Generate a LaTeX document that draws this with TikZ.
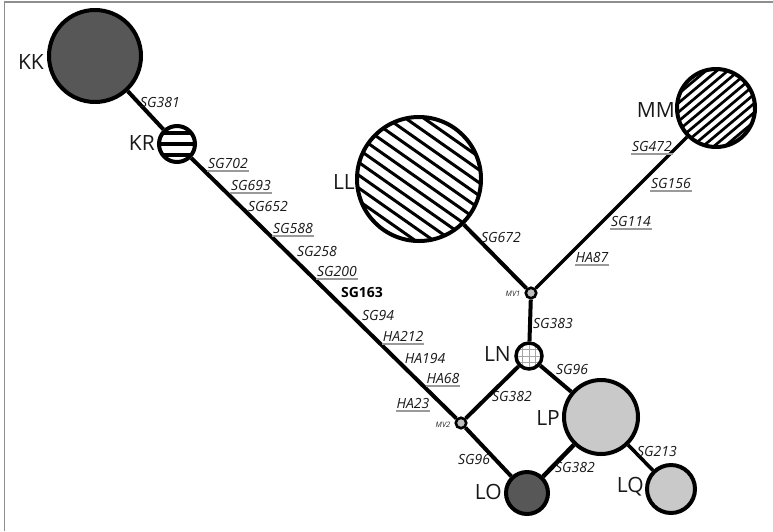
\documentclass[tikz,border=0pt]{standalone}
\usepackage{fontspec}
\setmainfont{Open Sans}
\definecolor{darkfill}{HTML}{575757}
\definecolor{lightfill}{HTML}{C9C9C9}
\definecolor{mvfill}{HTML}{BDBDBD}
\definecolor{framegray}{HTML}{8F8F8F}
\definecolor{ulgray}{HTML}{9A9A9A}
\begin{document}
\begin{tikzpicture}[x=1pt,y=-1pt,
  hap/.style={circle, draw=black, line width=4pt, inner sep=0pt, minimum size=#1},
  mv/.style={circle, draw=black, fill=mvfill, line width=2.6pt, inner sep=0pt, minimum size=10.5pt},
  link/.style={line width=4pt, black},
  stripe/.style={line width=#1, black},
  mut/.style={font=\itshape\fontsize{14}{16}\selectfont, inner sep=0.5pt, text=black!90},
  mutbold/.style={font=\bfseries\fontsize{14}{16}\selectfont, inner sep=0.5pt, text=black},
  hname/.style={font=\fontsize{21}{23}\selectfont, inner sep=0pt, anchor=east, text=black!90},
  mvname/.style={font=\itshape\fontsize{7.5}{8}\selectfont, inner sep=0pt, text=black!85},
  ulline/.style={draw=ulgray, line width=1.3pt}
]
\useasboundingbox (0,0) rectangle (773,531);
% partial frame along the top and left edges
\draw[framegray, line width=1.8pt] (4.5,531) -- (4.5,1.8) -- (773,1.8);

% haplotype circles
\node[hap=92, fill=darkfill] (kk) at (95,56) {};
\node[hap=36, fill=white, path picture={
    \foreach \dy in {-11,0,11}
      \draw[stripe=4pt] ([shift={(-30,\dy)}]path picture bounding box.center) -- ++(60,0);
  }] (kr) at (177,144) {};
\node[hap=124, fill=white, path picture={
    \foreach \k in {-7,...,7}
      \draw[stripe=3pt] ([shift={(-\k*6.03-57.3, \k*8.60-40.2)}]path picture bounding box.center) -- ++(114.6,80.4);
  }] (ll) at (419,179) {};
\node[hap=78, fill=white, path picture={
    \foreach \k in {-7,...,7}
      \draw[stripe=2.7pt] ([shift={(\k*4.50-38.3, \k*5.36+32.1)}]path picture bounding box.center) -- ++(76.6,-64.2);
  }] (mm) at (716,108) {};
\node[mv] (mv1) at (531,293) {};
\node[hap=26, line width=3.5pt, fill=white, path picture={
    \draw[black!35, line width=0.6pt, step=6.5pt]
      ([shift={(-20,-20)}]path picture bounding box.center) grid ([shift={(20,20)}]path picture bounding box.center);
  }] (ln) at (529,356) {};
\node[mv] (mv2) at (461,423) {};
\node[hap=74, fill=lightfill] (lp) at (601,417) {};
\node[hap=42, fill=darkfill] (lo) at (527,493) {};
\node[hap=48, fill=lightfill] (lq) at (671,489) {};

% connectors
\draw[link] (kk) -- (kr);
\draw[link] (kr) -- (mv2);
\draw[link] (mv2) -- (ln);
\draw[link] (mv2) -- (lo);
\draw[link] (ln) -- (mv1);
\draw[link] (mv1) -- (ll);
\draw[link, line width=3.5pt] (mv1) -- (mm);
\draw[link] (ln) -- (lp);
\draw[link, line width=4.5pt] (lo) -- (lp);
\draw[link, line width=3.5pt] (lp) -- (lq);

% haplotype names
\node[hname] (kkn) at (44,62) {KK};
\node[hname] (krn) at (155,143) {KR};
\node[hname] (lln) at (355,182) {LL};
\node[hname] (mmn) at (675,110) {MM};
\node[hname] (lnn) at (511,354) {LN};
\node[hname] (lpn) at (560,418) {LP};
\node[hname] (lon) at (502,492) {LO};
\node[hname] (lqn) at (644,487) {LQ};
\node[mvname] (mv1n) at (513,294) {MV1};
\node[mvname] (mv2n) at (443,425) {MV2};

% mutation labels
\node[mut] (m381) at (160,102) {SG381};
\node[mut] (m702) at (228,163) {SG702};
\node[mut] (m693) at (251,185) {SG693};
\node[mut] (m652) at (268,206) {SG652};
\node[mut] (m588) at (293,228) {SG588};
\node[mut] (m258) at (317,251) {SG258};
\node[mut] (m200) at (337,271) {SG200};
\node[mutbold] (m163) at (362,292) {SG163};
\node[mut] (m94) at (378,315) {SG94};
\node[mut] (h212) at (403,336) {HA212};
\node[mut] (h194) at (425,358) {HA194};
\node[mut] (h68) at (443,378) {HA68};
\node[mut] (h23) at (413,403) {HA23};
\node[mut] (m672) at (501,237) {SG672};
\node[mut] (m472) at (652,146) {SG472};
\node[mut] (m156) at (671,183) {SG156};
\node[mut] (m114) at (631,221) {SG114};
\node[mut] (h87) at (592,257) {HA87};
\node[mut] (m383) at (553,323) {SG383};
\node[mut] (m382a) at (512,396) {SG382};
\node[mut] (m96a) at (572,369) {SG96};
\node[mut] (m96b) at (474,459) {SG96};
\node[mut] (m382b) at (575,467) {SG382};
\node[mut] (m213) at (657,451) {SG213};

% underlined mutations
\foreach \n in {m702,m693,m588,m200,h212,h68,h23,m472,m156,m114,h87}
  \draw[ulline] ([yshift=-3pt]\n.base west) -- ([yshift=-3pt]\n.base east);
\end{tikzpicture}
\end{document}
